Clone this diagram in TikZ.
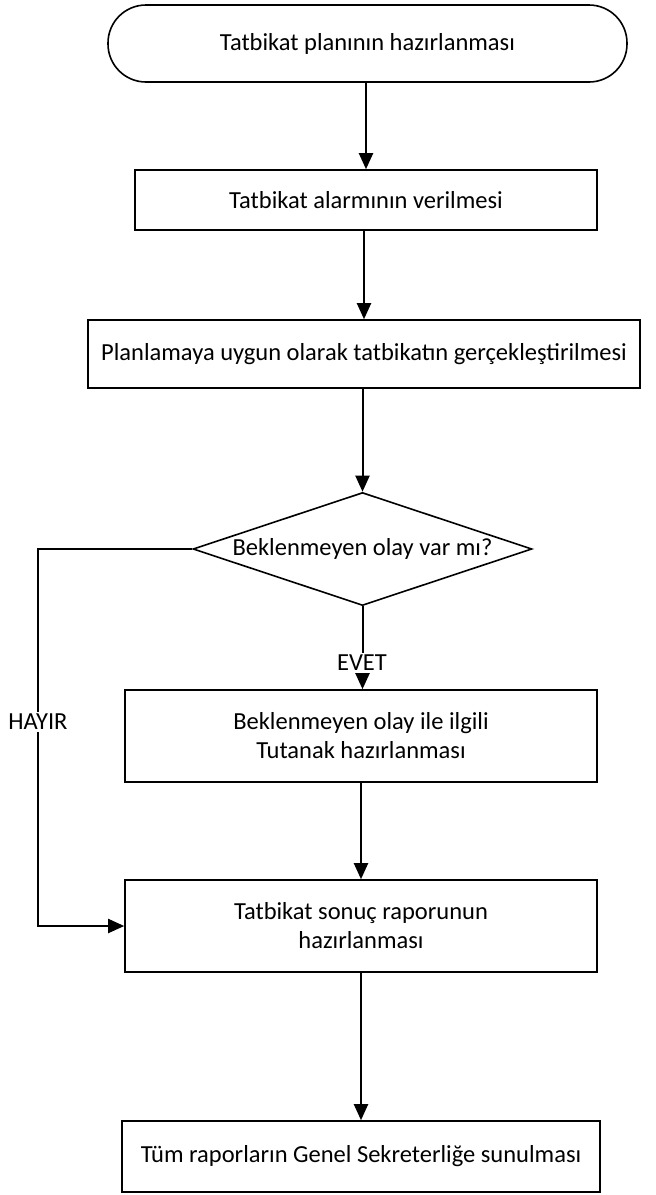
\documentclass[tikz,border=0pt]{standalone}
\usepackage{fontspec}
\setmainfont{Carlito}
\usetikzlibrary{shapes.geometric,arrows.meta}
\begin{document}
\begin{tikzpicture}[x=1pt,y=-1pt,
  every node/.style={font=\fontsize{24.5}{29}\selectfont},
  box/.style={draw,line width=1.6pt,rectangle,inner sep=0pt,align=center},
  arr/.style={line width=2pt,-{Triangle[length=16pt,width=14pt]}},
  lab/.style={fill=white,inner sep=2pt}]
\useasboundingbox (0,0) rectangle (656,1195);
\node[box,rounded corners=38pt,minimum width=519pt,minimum height=77pt] (start) at (367.5,43.5) {Tatbikat planının hazırlanması};
\node[box,minimum width=462pt,minimum height=60pt] (alarm) at (366,200) {Tatbikat alarmının verilmesi};
\node[box,minimum width=552pt,minimum height=68pt] (plan) at (364,354) {Planlamaya uygun olarak tatbikatın gerçekleştirilmesi};
\node[draw,line width=1.6pt,diamond,inner sep=0pt,aspect=3,minimum width=339pt,minimum height=113pt] (dia) at (362.5,549) {Beklenmeyen olay var mı?};
\node[box,minimum width=472pt,minimum height=92pt] (tut) at (361,736) {Beklenmeyen olay ile ilgili\\Tutanak hazırlanması};
\node[box,minimum width=472pt,minimum height=92pt] (son) at (361,926) {Tatbikat sonuç raporunun\\hazırlanması};
\node[box,minimum width=478pt,minimum height=71pt] (genel) at (361,1156.5) {Tüm raporların Genel Sekreterliğe sunulması};
\coordinate (hl) at (38,549);
\draw[arr] (start.south -| alarm.north) -- (alarm.north);
\draw[arr] (alarm.south -| plan.north) -- (plan.north);
\draw[arr] (plan.south -| dia.north) -- (dia.north);
\draw[arr] (dia.south) -- (dia.south |- tut.north);
\draw[arr] (tut.south) -- (son.north);
\draw[arr] (son.south) -- (genel.north);
\draw[arr] (dia.west) -- (hl) |- (son.west);
\node[lab] (evet) at (362,663) {EVET};
\node[lab] (hayir) at (38,722) {HAYIR};
\end{tikzpicture}
\end{document}
